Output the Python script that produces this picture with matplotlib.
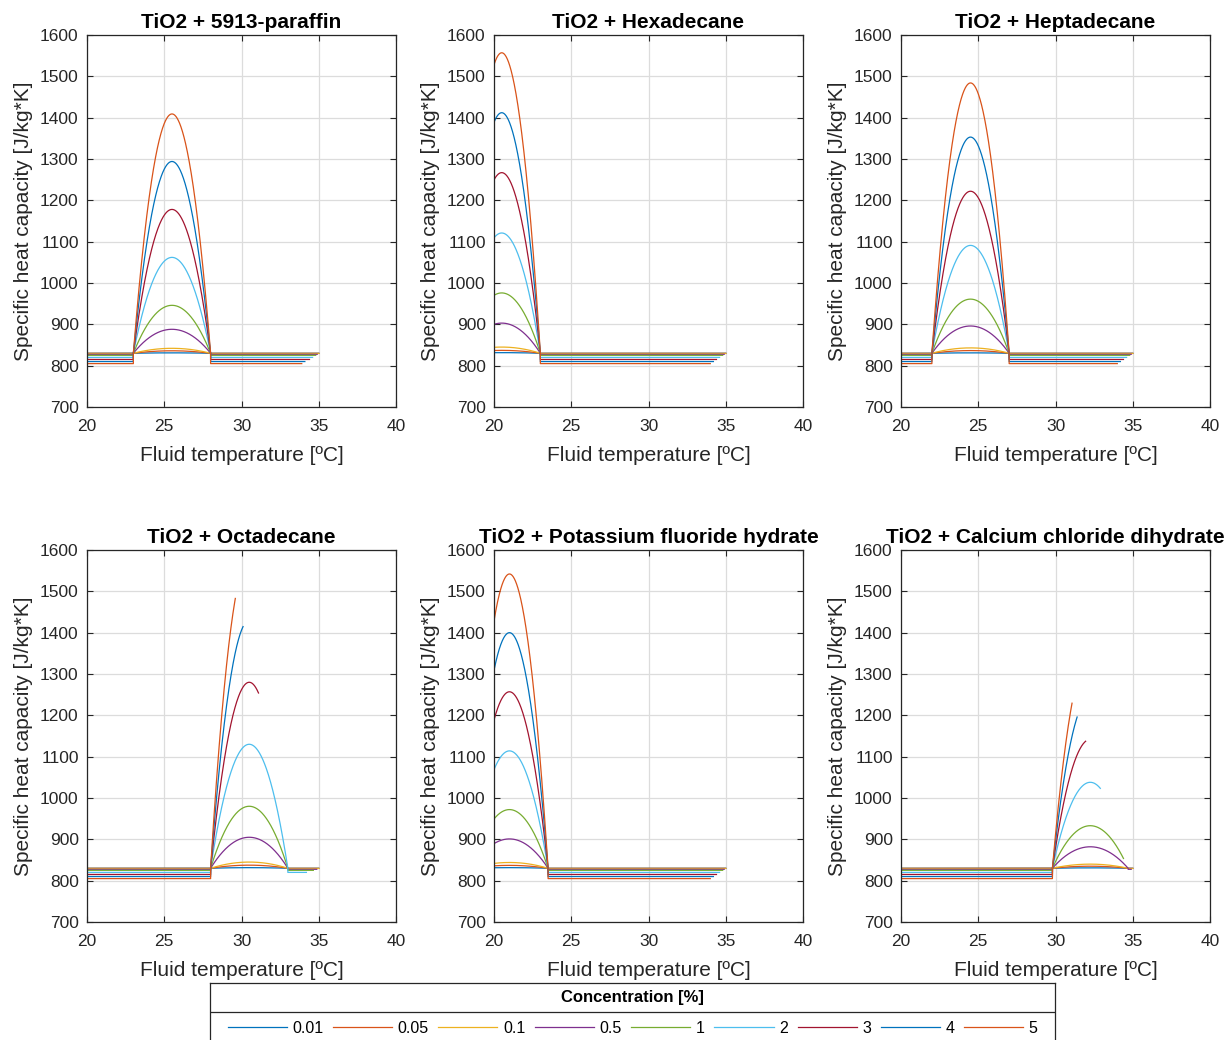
import numpy as np
import matplotlib
matplotlib.use("Agg")
import matplotlib.pyplot as plt

plt.rcParams['font.family'] = ['Liberation Sans', 'DejaVu Sans']

# nanoparticle concentrations [%] and their line colours
conc = [0.01, 0.05, 0.1, 0.5, 1, 2, 3, 4, 5]
conc_labels = ['0.01', '0.05', '0.1', '0.5', '1', '2', '3', '4', '5']
colors = ['#0072BD', '#D95319', '#EDB120', '#7E2F8E', '#77AC30',
          '#4DBEEE', '#A2142F', '#0072BD', '#D95319']

titles = ['TiO2 + 5913-paraffin', 'TiO2 + Hexadecane', 'TiO2 + Heptadecane',
          'TiO2 + Octadecane', 'TiO2 + Potassium fluoride hydrate',
          'TiO2 + Calcium chloride dihydrate']

# sensible cp outside the phase change (solid and liquid), per concentration
cp_sens = [830, 829.8, 829.5, 827.5, 825, 820, 815, 810, 805]
cp_base = 830  # cp at the edges of the melting range

# melting range [ºC] of each PCM
melt_start = [23.0, 18.0, 22.0, 28.0, 18.5, 29.8]
melt_end = [28.0, 23.0, 27.0, 33.0, 23.5, 34.7]

# peak apparent cp inside the melting range [J/kg*K]
peak_paraffin = [831, 836, 842, 888, 946, 1062, 1178, 1294, 1409]
peak_hexadecane = [831.5, 837, 845, 903, 976, 1121, 1267, 1412, 1557]
peak_heptadecane = [831, 836.5, 843, 896, 961, 1091, 1222, 1353, 1484]
peak_octadecane = [831.5, 837.5, 845, 905, 980, 1130, 1280, 1430, 1580]
peak_kf = [831.5, 837, 844, 901, 972, 1114, 1257, 1400, 1542]
peak_cacl2 = [831, 835, 840, 882, 933, 1038, 1142, 1246, 1350]
peaks = [peak_paraffin, peak_hexadecane, peak_heptadecane,
         peak_octadecane, peak_kf, peak_cacl2]

# final fluid temperature reached by each run [ºC]
t_start = 20.0
end_paraffin = [35, 35, 35, 34.9, 34.8, 34.6, 34.4, 34.1, 33.9]
end_hexadecane = [35, 35, 35, 34.9, 34.8, 34.6, 34.4, 34.2, 34.0]
end_heptadecane = [35, 35, 35, 34.9, 34.8, 34.6, 34.4, 34.2, 34.0]
end_octadecane = [35, 35, 35, 34.87, 34.65, 34.2, 31.1, 30.1, 29.6]
end_kf = [35, 35, 35, 34.9, 34.8, 34.6, 34.4, 34.2, 34.0]
end_cacl2 = [35, 35, 35, 34.9, 34.4, 32.9, 31.95, 31.4, 31.07]
t_final = [end_paraffin, end_hexadecane, end_heptadecane,
           end_octadecane, end_kf, end_cacl2]


def cp_curve(ts, tl, t_end, level, peak):
    # apparent heat capacity: flat sensible part + parabolic latent bump
    T = [t_start]
    cp = [level]
    if ts > t_start:
        T.append(ts)
        cp.append(level)
        a = ts
    else:
        a = t_start
    b = min(tl, t_end)
    tm = np.linspace(a, b, 300)
    mid = 0.5 * (ts + tl)
    half = 0.5 * (tl - ts)
    cpm = cp_base + (peak - cp_base) * (1 - ((tm - mid) / half) ** 2)
    T += list(tm)
    cp += list(cpm)
    if t_end > tl:
        T += [tl, t_end]
        cp += [level, level]
    return T, cp


fig = plt.figure(figsize=(12.3, 10.4), dpi=100)

lefts = [87, 494, 901]
tops = [35, 550]
W, H = 1230.0, 1040.0
axw, axh = 309, 372

handles = []
for k in range(6):
    r, c = divmod(k, 3)
    ax = fig.add_axes([lefts[c] / W, 1 - (tops[r] + axh) / H, axw / W, axh / H])
    for i in range(len(conc)):
        T, cp = cp_curve(melt_start[k], melt_end[k], t_final[k][i],
                         cp_sens[i], peaks[k][i])
        ln, = ax.plot(T, cp, color=colors[i], lw=0.9)
        if k == 0:
            handles.append(ln)
    ax.set_xlim(20, 40)
    ax.set_ylim(700, 1600)
    ax.set_xticks([20, 25, 30, 35, 40])
    ax.set_yticks(np.arange(700, 1601, 100))
    ax.grid(True, color='#dcdcdc', lw=0.9)
    ax.set_axisbelow(True)
    ax.tick_params(direction='in', top=True, right=True, length=4,
                   labelsize=12.5, colors='#262626')
    ax.tick_params(axis='x', pad=9)
    ax.tick_params(axis='y', pad=6)
    for s in ax.spines.values():
        s.set_color('#262626')
        s.set_linewidth(0.9)
    ax.set_title(titles[k], fontsize=15, fontweight='bold', pad=5)
    ax.set_xlabel('Fluid temperature [ºC]', fontsize=15, color='#262626', labelpad=8)
    ax.set_ylabel('Specific heat capacity [J/kg*K]', fontsize=15, color='#262626', labelpad=5)

# legend panel at the bottom
lax = fig.add_axes([210 / W, -4 / H, 845 / W, 61 / H])
lax.set_xlim(0, 1)
lax.set_ylim(0, 1)
lax.set_xticks([])
lax.set_yticks([])
for s in lax.spines.values():
    s.set_color('#262626')
    s.set_linewidth(0.9)
lax.axhline(0.52, color='#262626', lw=0.9)
lax.text(0.5, 0.76, 'Concentration [%]', ha='center', va='center',
         fontsize=12, fontweight='bold')
lax.legend(handles, conc_labels, ncol=9, loc='center',
           bbox_to_anchor=(0.5, 0.26), frameon=False, fontsize=11.5,
           handlelength=3.7, handletextpad=0.35, columnspacing=0.6,
           borderaxespad=0)

fig.savefig('out.png', dpi=100)
